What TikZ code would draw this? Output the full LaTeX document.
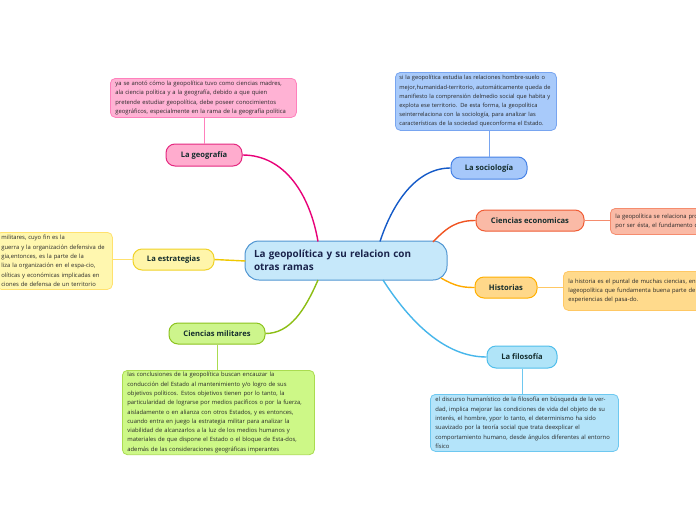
\documentclass[tikz,border=0pt]{standalone}
\usepackage{fontspec}
\setmainfont{Open Sans}
\definecolor{txtcol}{RGB}{40,40,40}
\definecolor{titlecol}{RGB}{20,45,45}
\definecolor{navy}{RGB}{25,35,75}
% pink
\definecolor{pkF}{RGB}{255,172,206}\definecolor{pkB}{RGB}{228,40,128}\definecolor{pkC}{RGB}{232,0,120}
\definecolor{pkTF}{RGB}{255,178,212}\definecolor{pkTB}{RGB}{255,128,188}
% blue
\definecolor{buF}{RGB}{166,200,250}\definecolor{buB}{RGB}{70,130,230}\definecolor{buC}{RGB}{20,90,200}
\definecolor{buTF}{RGB}{168,202,250}\definecolor{buTB}{RGB}{120,165,240}
% salmon
\definecolor{saF}{RGB}{250,186,166}\definecolor{saB}{RGB}{240,92,52}\definecolor{saC}{RGB}{240,84,34}
\definecolor{saTF}{RGB}{250,186,166}\definecolor{saTB}{RGB}{245,140,110}
% orange
\definecolor{orF}{RGB}{255,216,138}\definecolor{orB}{RGB}{255,176,0}\definecolor{orC}{RGB}{255,170,0}
\definecolor{orTF}{RGB}{255,218,140}\definecolor{orTB}{RGB}{255,200,100}
% light blue
\definecolor{lbF}{RGB}{176,228,248}\definecolor{lbB}{RGB}{80,190,235}\definecolor{lbC}{RGB}{70,182,235}
\definecolor{lbTF}{RGB}{180,228,250}\definecolor{lbTB}{RGB}{110,200,240}
% green
\definecolor{grF}{RGB}{205,245,140}\definecolor{grB}{RGB}{140,195,30}\definecolor{grC}{RGB}{140,190,20}
\definecolor{grTF}{RGB}{205,248,135}\definecolor{grTB}{RGB}{170,220,80}
% yellow
\definecolor{yeF}{RGB}{255,245,170}\definecolor{yeB}{RGB}{240,210,40}\definecolor{yeC}{RGB}{240,200,0}
\definecolor{yeTF}{RGB}{255,247,175}\definecolor{yeTB}{RGB}{255,225,110}
% central
\definecolor{ceF}{RGB}{198,232,250}\definecolor{ceB}{RGB}{80,150,210}
\tikzset{
  txtbox/.style={draw, rounded corners=5pt, line width=0.8pt, anchor=north west, align=left,
    font=\fontsize{5.85}{9.3}\selectfont, text=txtcol, inner xsep=5pt, inner ysep=2pt},
  branch/.style={draw, rounded corners=9pt, line width=1pt, font=\bfseries\fontsize{7.6}{9}\selectfont,
    text=titlecol, inner sep=0pt},
  curve/.style={line width=1.4pt},
  link/.style={line width=0.9pt},
}
\begin{document}
\begin{tikzpicture}[x=1pt,y=-1pt]
\useasboundingbox (0,0) rectangle (696,520);
\clip (0,0) rectangle (696,520);
\fill[white] (0,0) rectangle (696,520);

% central
\node[draw=ceB, fill=ceF, line width=1pt, rounded corners=14pt, minimum width=202pt, minimum height=39pt,
  text width=184pt, align=left, inner sep=0pt, text=navy, font=\bfseries\fontsize{9.9}{13}\selectfont]
  (c) at (346,260.5) {La geopolítica y su relacion con\\otras ramas};

% branches
\node[branch, draw=pkB, fill=pkF, minimum width=76pt, minimum height=22pt] (geo) at (204,155) {La geografía};
\node[branch, draw=buB, fill=buF, minimum width=76pt, minimum height=22pt] (soc) at (489,168) {La sociología};
\node[branch, draw=saB, fill=saF, minimum width=108pt, minimum height=21pt] (eco) at (530,220.5) {Ciencias economicas};
\node[branch, draw=orB, fill=orF, minimum width=62pt, minimum height=21pt] (his) at (506,287.5) {Historias};
\node[branch, draw=lbB, fill=lbF, minimum width=70pt, minimum height=22pt] (fil) at (522,357) {La filosofía};
\node[branch, draw=grB, fill=grF, minimum width=96pt, minimum height=21pt] (mil) at (217,333.5) {Ciencias militares};
\node[branch, draw=yeB, fill=yeF, minimum width=81pt, minimum height=21pt] (est) at (173.5,259.5) {La estrategias};

% text boxes
\node[txtbox, draw=pkTB, fill=pkTF, minimum width=186pt, minimum height=39pt, text width=176pt] (tgeo) at (110,78)
{ya se anotó cómo la geopolítica tuvo como ciencias madres,\\
ala ciencia política y a la geografía, debido a que quien\\
pretende estudiar geopolítica, debe poseer conocimientos\\
geográficos, especialmente en la rama de la geografía política};

\node[txtbox, draw=buTB, fill=buTF, minimum width=158pt, minimum height=58pt, text width=153pt, inner xsep=4pt,
  font=\fontsize{5.7}{9.2}\selectfont] (tsoc) at (395,72)
{si la geopolítica estudia las relaciones hombre-suelo o\\
mejor,humanidad-territorio, automáticamente queda de\\
manifiesto la comprensión delmedio social que habita y\\
explota ese territorio. De esta forma, la geopolítica\\
seinterrelaciona con la sociología, para analizar las\\
características de la sociedad queconforma el Estado.};

\node[txtbox, draw=saTB, fill=saTF, minimum width=110pt, minimum height=26pt, text width=100pt] (teco) at (610,208)
{la geopolítica se relaciona pro\\
por ser ésta, el fundamento d};

\node[txtbox, draw=orTB, fill=orTF, minimum width=150pt, minimum height=39pt, text width=140pt] (this) at (563,271)
{la historia es el puntal de muchas ciencias, ent\\
lageopolítica que fundamenta buena parte de\\
experiencias del pasa-do.};

\node[txtbox, draw=lbTB, fill=lbTF, minimum width=185pt, minimum height=57pt, text width=178pt] (tfil) at (430,394)
{el discurso humanístico de la filosofía en búsqueda de la ver-\\
dad, implica mejorar las condiciones de vida del objeto de su\\
interés, el hombre, ypor lo tanto, el determinismo ha sido\\
suavizado por la teoría social que trata deexplicar el\\
comportamiento humano, desde ángulos diferentes al entorno\\
físico};

\node[txtbox, draw=grTB, fill=grTF, minimum width=188pt, minimum height=83pt, text width=182pt] (tmil) at (122,370)
{las conclusiones de la geopolítica buscan encauzar la\\
conducción del Estado al mantenimiento y/o logro de sus\\
objetivos políticos. Estos objetivos tienen por lo tanto, la\\
particularidad de lograrse por medios pacíficos o por la fuerza,\\
aisladamente o en alianza con otros Estados, y es entonces,\\
cuando entra en juego la estrategia militar para analizar la\\
viabilidad de alcanzarlos a la luz de los medios humanos y\\
materiales de que dispone el Estado o el bloque de Esta-dos,\\
además de las consideraciones geográficas imperantes};

\node[txtbox, draw=yeTB, fill=yeTF, minimum width=111pt, minimum height=57pt, text width=106pt] (test) at (-4,232)
{militares, cuyo fin es la\\
guerra y la organización defensiva de\\
gia,entonces, es la parte de la\\
liza la organización en el espa-cio,\\
olíticas y económicas implicadas en\\
ciones de defensa de un territorio};

% links branch -> text box
\draw[link, pkTB] (geo.north) -- (tgeo.south -| geo.north);
\draw[link, buTB] (soc.north) -- (tsoc.south -| soc.north);
\draw[link, saTB] (eco.east) -- (teco.west |- eco.east);
\draw[link, orTB] (his.east) -- (this.west |- his.east);
\draw[link, lbTB] (fil.south) -- (tfil.north -| fil.south);
\draw[link, grTB] (mil.south) -- (tmil.north -| mil.south);
\draw[link, yeTB] (est.west) -- (test.east |- est.west);

% curves central -> branches
\coordinate (cg) at (318,241.5);
\coordinate (cs) at (380,241.5);
\coordinate (ce) at (433,242);
\coordinate (ch) at (441,278);
\coordinate (cf) at (383,280);
\coordinate (cm) at (318,280);
\coordinate (cy) at (245.5,261);
\draw[curve, pkC] (cg) .. controls (310,195) and (285,155) .. (geo.east);
\draw[curve, buC] (cs) .. controls (392,205) and (415,168) .. (soc.west);
\draw[curve, saC] (ce) .. controls (448,226) and (458,220.5) .. (eco.west);
\draw[curve, orC] (ch) .. controls (455,286) and (462,287.5) .. (his.west);
\draw[curve, lbC] (cf) .. controls (410,322) and (445,357) .. (fil.west);
\draw[curve, grC] (cm) .. controls (305,310) and (290,333.5) .. (mil.east);
\draw[curve, yeC] (cy) -- (est.east);
\end{tikzpicture}
\end{document}
